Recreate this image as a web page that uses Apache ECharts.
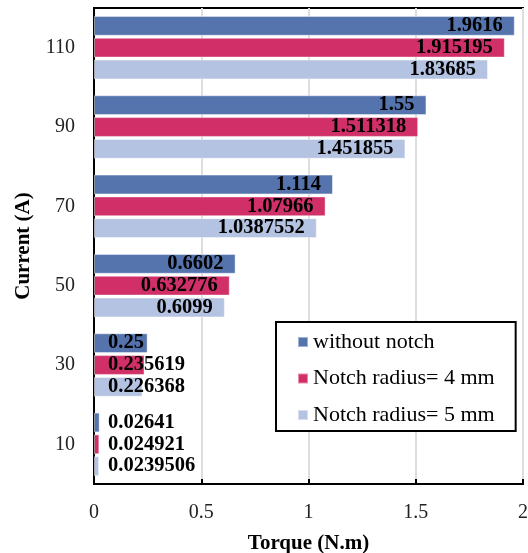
<!DOCTYPE html>
<html>
<head>
<meta charset="utf-8">
<script src="https://cdn.jsdelivr.net/npm/echarts@6/dist/echarts.min.js"></script>
<style>
html,body{margin:0;padding:0;background:#fff;}
#chart{width:528px;height:553px;}
</style>
</head>
<body>
<div id="chart"></div>
<script>
const categories = ['10', '30', '50', '70', '90', '110'];
const seriesNames = ['without notch', 'Notch radius= 4 mm', 'Notch radius= 5 mm'];
const withoutNotch = [0.02641, 0.25, 0.6602, 1.114, 1.55, 1.9616];
const notch4 = [0.024921, 0.235619, 0.632776, 1.07966, 1.511318, 1.915195];
const notch5 = [0.0239506, 0.226368, 0.6099, 1.0387552, 1.451855, 1.83685];
const xMin = 0, xMax = 2, xInterval = 0.5;

const colors = ['#5574AE', '#D03067', '#B4C3E2'];
const FONT = 'Liberation Serif';

function toData(arr) {
  return arr.map(v => (v < 0.3
    ? { value: v, label: { position: 'insideLeft', distance: 14 } }
    : { value: v }));
}

function makeSeries(name, arr, color) {
  return {
    name: name,
    type: 'bar',
    data: toData(arr),
    barCategoryGap: '20%',
    barGap: '10%',
    itemStyle: { color: color, borderColor: 'rgba(255,255,255,0.45)', borderWidth: 1 },
    label: {
      show: true,
      position: 'insideRight',
      distance: 12,
      formatter: p => String(p.value),
      fontFamily: FONT,
      fontWeight: 'bold',
      fontSize: 20.5,
      color: '#000'
    },
    emphasis: { disabled: true },
    animation: false
  };
}

const chart = echarts.init(document.getElementById('chart'), null, { renderer: 'canvas' });
chart.setOption({
  animation: false,
  color: colors,
  textStyle: { fontFamily: FONT },
  grid: {
    left: 94, right: 5, top: 8, bottom: 69,
    containLabel: false,
    outerBoundsMode: 'none',
    show: true, borderColor: '#000', borderWidth: 2, backgroundColor: 'transparent'
  },
  legend: {
    orient: 'vertical',
    left: 276, top: 322,
    data: seriesNames,
    icon: 'rect',
    itemWidth: 10, itemHeight: 10,
    itemGap: 14.5,
    padding: [9, 21, 5, 21],
    backgroundColor: '#fff',
    borderColor: '#000',
    borderWidth: 2,
    borderRadius: 0,
    textStyle: { fontFamily: FONT, fontSize: 22, color: '#000' }
  },
  xAxis: {
    type: 'value',
    min: xMin, max: xMax, interval: xInterval,
    name: 'Torque (N.m)',
    nameLocation: 'middle',
    nameGap: 49,
    nameTextStyle: { fontFamily: FONT, fontWeight: 'bold', fontSize: 21, color: '#000' },
    axisLine: { show: true, lineStyle: { color: '#000', width: 2 } },
    axisTick: { show: true, inside: true, length: 5, lineStyle: { color: '#000', width: 2 } },
    axisLabel: { fontFamily: FONT, fontSize: 20, color: '#222', margin: 19 },
    splitLine: { show: true, lineStyle: { color: '#dedede', width: 2 } }
  },
  yAxis: {
    type: 'category',
    data: categories,
    name: 'Current (A)',
    nameLocation: 'middle',
    nameGap: 60,
    nameTextStyle: { fontFamily: FONT, fontWeight: 'bold', fontSize: 21, color: '#000' },
    axisLine: { show: true, lineStyle: { color: '#000', width: 2 } },
    axisTick: { show: false },
    axisLabel: { fontFamily: FONT, fontSize: 20, color: '#222', margin: 19 },
    splitLine: { show: false }
  },
  series: [
    makeSeries(seriesNames[0], withoutNotch, colors[0]),
    makeSeries(seriesNames[1], notch4, colors[1]),
    makeSeries(seriesNames[2], notch5, colors[2])
  ]
});
</script>
</body>
</html>
